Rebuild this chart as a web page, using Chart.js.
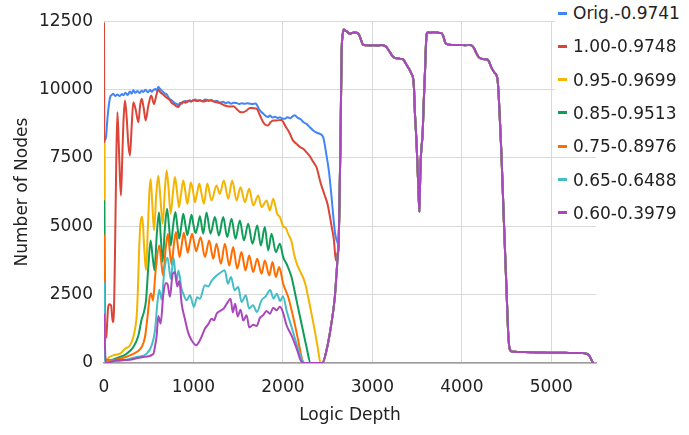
<!DOCTYPE html>
<html>
<head>
<meta charset="utf-8">
<script src="https://cdn.jsdelivr.net/npm/chart.js@4/dist/chart.umd.min.js"></script>
<style>
  html, body { margin: 0; padding: 0; background: #fff; }
  #wrap { position: relative; width: 689px; height: 435px; }
  #legend { position: absolute; left: 555px; top: 0; font: 17px "DejaVu Sans", sans-serif; color: #222; }
  .item { position: absolute; left: 0; width: 134px; height: 22px; background: #fff; display: flex; align-items: center; white-space: nowrap; }
  .swatch { width: 9px; height: 3px; margin-left: 3px; margin-right: 6px; flex: none; }
</style>
</head>
<body>
<div id="wrap">
  <canvas id="c" width="689" height="435"></canvas>
  <div id="legend"></div>
</div>
<script>
// Node count per logic depth, [depth, nodes]
const seriesLabels = ['Orig.-0.9741', '1.00-0.9748', '0.95-0.9699', '0.85-0.9513', '0.75-0.8976', '0.65-0.6488', '0.60-0.3979'];

const orig = [[0,8100],[22,8250],[40,9000],[67,9700],[85,9800],[104,9850],[125,9760],[150,9820],[175,9760],[200,9840],[216,9790],[240,9880],[265,9800],[290,9930],[310,9850],[328,9975],[350,9880],[375,9950],[400,9870],[420,9960],[440,9915],[465,9990],[490,9900],[515,9980],[535,9920],[551,9975],[575,10020],[590,9960],[607,10100],[625,10030],[645,9960],[665,9900],[682,9850],[700,9830],[720,9720],[740,9640],[760,9600],[790,9500],[812,9480],[830,9420],[850,9520],[870,9480],[886,9550],[910,9580],[930,9540],[960,9610],[980,9570],[998,9610],[1020,9640],[1050,9590],[1072,9620],[1100,9580],[1130,9640],[1147,9630],[1170,9580],[1200,9620],[1230,9560],[1260,9590],[1290,9530],[1333,9550],[1360,9500],[1390,9540],[1420,9480],[1445,9520],[1482,9510],[1510,9470],[1540,9500],[1570,9480],[1600,9500],[1631,9485],[1660,9470],[1690,9490],[1706,9460],[1730,9300],[1761,9170],[1780,9120],[1810,9030],[1835,9000],[1855,9050],[1880,8980],[1910,9010],[1940,8960],[1966,8990],[1990,8940],[2022,8930],[2050,8990],[2080,8950],[2105,9010],[2133,9060],[2160,8980],[2189,8930],[2210,8880],[2227,8810],[2264,8745],[2301,8620],[2339,8505],[2380,8420],[2413,8380],[2450,8260],[2487,7600],[2515,7000],[2543,6100],[2565,5300],[2585,4700],[2606,4450]];

const r100 = [[0,12450],[10,900],[25,950],[45,2000],[60,2150],[80,2100],[97,1500],[110,1800],[125,4500],[138,7600],[150,9170],[165,8000],[178,6800],[190,6130],[205,7600],[220,9000],[235,9600],[255,8900],[272,8000],[290,7590],[310,8700],[328,9540],[355,9250],[384,8806],[405,9450],[421,9660],[445,9300],[466,8870],[495,9400],[528,9780],[559,9476],[585,9800],[607,9990],[630,9900],[660,9820],[682,9760],[710,9680],[737,9608],[760,9500],[790,9450],[810,9380],[830,9363],[855,9480],[886,9547],[910,9520],[940,9590],[970,9560],[998,9608],[1030,9580],[1072,9598],[1110,9560],[1150,9600],[1184,9608],[1221,9573],[1260,9530],[1300,9500],[1351,9415],[1400,9380],[1445,9387],[1482,9293],[1520,9180],[1556,9171],[1593,9232],[1631,9330],[1670,9320],[1706,9300],[1740,9080],[1780,8806],[1810,8700],[1836,8690],[1860,8800],[1891,8867],[1929,8873],[1984,8891],[2004,8812],[2030,8650],[2059,8502],[2078,8383],[2110,8150],[2152,8015],[2190,7900],[2227,7832],[2265,7700],[2301,7560],[2340,7350],[2376,7160],[2420,6600],[2460,6200],[2500,5800],[2544,5000],[2570,4500],[2592,3750],[2608,4000]];

const r095 = [[0,8050],[12,250],[30,120],[60,220],[104,280],[179,340],[235,520],[291,650],[328,950],[350,1300],[365,1700],[378,2600],[390,3900],[405,5000],[428,5350],[448,4300],[469,3390],[490,4900],[508,6300],[521,6730],[540,5800],[559,4850],[585,6200],[607,6850],[630,6050],[656,5090],[680,6300],[700,7040],[720,6450],[745,5460],[770,6200],[793,6800],[815,6300],[838,5700],[862,6200],[886,6670],[908,6300],[931,5820],[952,6200],[970,6600],[995,6300],[1017,5880],[1040,6200],[1065,6560],[1090,6200],[1117,5820],[1154,6560],[1202,5940],[1258,6490],[1295,6190],[1340,6675],[1389,6005],[1433,6675],[1482,5944],[1526,6431],[1575,5883],[1623,6370],[1668,5761],[1724,6127],[1761,5700],[1817,5944],[1854,5578],[1891,6005],[1936,5457],[1966,5335],[2003,5000],[2030,4950],[2059,4720],[2096,4450],[2130,3900],[2165,3550],[2200,3300],[2245,2950],[2280,2450],[2320,1800],[2358,1150],[2395,450],[2420,0]];

const r085 = [[0,5950],[12,150],[30,97],[67,97],[120,150],[179,220],[253,340],[328,585],[384,1000],[421,1600],[445,1850],[470,2300],[495,3500],[521,4480],[543,3900],[565,3390],[590,4700],[615,5500],[635,4600],[655,3700],[680,4900],[705,5640],[727,5000],[747,4300],[772,5000],[798,5520],[820,5000],[840,4550],[864,5000],[886,5460],[910,5050],[931,4680],[955,5050],[979,5420],[1000,5050],[1024,4750],[1050,5050],[1072,5370],[1109,4726],[1146,5500],[1191,4726],[1240,5335],[1284,4665],[1333,5335],[1377,4604],[1426,5274],[1470,4543],[1519,5213],[1564,4482],[1612,5091],[1660,4360],[1713,5030],[1753,4300],[1798,4970],[1835,4117],[1873,4726],[1921,4056],[1966,4360],[2003,3873],[2040,3630],[2096,3142],[2152,2290],[2208,1437],[2264,585],[2310,0]];

const r075 = [[0,4700],[12,120],[30,97],[67,97],[179,158],[291,280],[365,400],[421,585],[458,950],[490,1800],[510,2400],[527,2540],[548,2290],[575,3300],[618,4300],[640,3700],[660,3200],[690,4200],[715,4730],[735,4100],[756,3600],[780,4300],[804,4790],[825,4300],[845,3880],[870,4350],[892,4760],[915,4400],[936,4030],[960,4400],[985,4730],[1008,4400],[1030,4090],[1055,4350],[1080,4600],[1128,3873],[1176,4482],[1221,3812],[1258,4360],[1307,3630],[1351,4360],[1400,3569],[1444,4239],[1489,3447],[1537,4056],[1582,3386],[1623,3934],[1668,3325],[1713,3812],[1761,3264],[1798,3751],[1847,3203],[1884,3690],[1921,3142],[1958,3508],[2003,2899],[2059,2412],[2115,1681],[2171,828],[2208,219],[2232,0]];

const r065 = [[0,2950],[12,80],[30,37],[120,60],[216,97],[365,219],[477,341],[533,646],[570,1194],[596,2168],[618,2680],[644,2320],[675,3400],[711,3850],[745,3080],[778,3850],[808,2950],[832,3380],[868,2700],[886,2540],[923,2294],[961,2477],[1005,2050],[1040,2400],[1072,2350],[1128,2840],[1165,2800],[1203,3000],[1250,3170],[1300,3300],[1350,3390],[1385,2900],[1420,3145],[1460,2660],[1500,2780],[1538,2230],[1585,2475],[1622,1990],[1665,2110],[1710,1865],[1760,2290],[1808,2440],[1858,2670],[1895,2350],[1932,2535],[1970,2260],[2000,2445],[2045,1865],[2097,1317],[2152,707],[2208,160],[2240,0]];

const r060 = [[0,1800],[20,0],[141,98],[290,122],[440,220],[551,330],[575,700],[589,1000],[607,1720],[633,1440],[663,2500],[693,2930],[711,2880],[737,2420],[767,3250],[793,3330],[819,2800],[842,3000],[868,2170],[905,1600],[942,1100],[979,830],[1030,650],[1072,830],[1128,1250],[1166,1420],[1203,1620],[1229,1560],[1259,1800],[1296,1900],[1340,2000],[1378,2200],[1415,2350],[1440,1850],[1466,2170],[1495,1700],[1527,1950],[1557,1550],[1594,1750],[1624,1300],[1668,1400],[1706,1350],[1743,1650],[1780,1750],[1817,1900],[1855,1800],[1892,2020],[1929,1930],[1966,2060],[1996,1900],[2041,1380],[2097,1000],[2152,540],[2200,90],[2230,0]];

// Climb out of zero shared by the five pruned runs
const climb = [[2440,0],[2490,500],[2540,1400],[2580,2400],[2600,3300],[2612,3900]];

// Deep section where every run coincides
const tail = [[2622,4300],[2630,5400],[2644,8200],[2656,11300],[2668,12000],[2681,12200],[2700,12150],[2715,12130],[2730,12080],[2748,12040],[2770,12070],[2800,12090],[2823,12080],[2840,12050],[2855,11980],[2875,11800],[2896,11640],[2930,11620],[2972,11614],[3020,11620],[3060,11610],[3101,11634],[3121,11614],[3140,11590],[3158,11550],[3190,11400],[3215,11270],[3232,11200],[3260,11150],[3290,11140],[3320,11120],[3343,11110],[3365,11000],[3381,10919],[3400,10810],[3420,10700],[3440,10560],[3456,10400],[3466,10000],[3475,9200],[3490,8300],[3505,7200],[3515,6300],[3526,5530],[3533,6500],[3540,7400],[3550,7900],[3562,8400],[3575,9600],[3590,10800],[3600,11700],[3610,12060],[3625,12100],[3642,12080],[3680,12100],[3720,12090],[3760,12070],[3775,12060],[3795,11930],[3815,11720],[3835,11660],[3870,11640],[3900,11630],[3940,11626],[3980,11630],[4040,11620],[4090,11630],[4110,11610],[4135,11520],[4160,11350],[4185,11200],[4210,11140],[4250,11110],[4285,11100],[4305,11020],[4325,10850],[4345,10720],[4365,10620],[4385,10540],[4400,10350],[4412,9800],[4424,9000],[4443,7625],[4470,5200],[4499,2744],[4517,1190],[4530,600],[4545,450],[4560,420],[4600,410],[4650,400],[4700,400],[4800,390],[4900,380],[5000,377],[5100,372],[5200,370],[5300,365],[5355,362],[5385,345],[5411,316],[5430,240],[5450,110],[5467,0]];

const xTickValues = [0, 1000, 2000, 3000, 4000, 5000];
const yTickValues = [0, 2500, 5000, 7500, 10000, 12500];

const colors = ['#4285F4', '#DB4437', '#F4B400', '#0F9D58', '#FF6D01', '#46BDC6', '#AB47BC'];

const rows = [
  orig.concat(tail),
  r100.concat(tail),
  r095.concat(climb, tail),
  r085.concat(climb, tail),
  r075.concat(climb, tail),
  r065.concat(climb, tail),
  r060.concat(climb, tail)
];

const FONT = { family: 'DejaVu Sans', size: 17 };

const datasets = rows.map((pts, i) => ({
  label: seriesLabels[i],
  data: pts.map(p => ({ x: p[0], y: p[1] })),
  borderColor: colors[i],
  backgroundColor: colors[i],
  borderWidth: 2,
  pointRadius: 0,
  fill: false,
  cubicInterpolationMode: 'monotone',
  order: rows.length - 1 - i   // later runs are painted over earlier ones
}));

new Chart(document.getElementById('c'), {
  type: 'line',
  data: { datasets },
  options: {
    responsive: false,
    animation: false,
    devicePixelRatio: 1,
    layout: { padding: { left: 0, right: 93, top: 20, bottom: 0 } },
    plugins: { legend: { display: false }, tooltip: { enabled: false } },
    scales: {
      x: {
        type: 'linear',
        min: 0,
        max: 5500,
        afterBuildTicks: s => { s.ticks = xTickValues.map(v => ({ value: v })); },
        afterFit: s => { s.height = 72; },
        ticks: { padding: 14, color: '#222', font: FONT, maxRotation: 0, autoSkip: false, callback: v => String(v) },
        grid: { color: '#d9d9d9', drawTicks: false },
        border: { color: '#9e9e9e', width: 1.5 },
        title: { display: true, text: 'Logic Depth', color: '#222', font: FONT, padding: { top: 0, bottom: 9 } }
      },
      y: {
        type: 'linear',
        min: 0,
        max: 12500,
        afterBuildTicks: s => { s.ticks = yTickValues.map(v => ({ value: v })); },
        afterFit: s => { s.width = 104; },
        ticks: { padding: 11, color: '#222', font: FONT, autoSkip: false, callback: v => String(v) },
        grid: { color: '#d9d9d9', drawTicks: false },
        border: { display: false },
        title: { display: true, text: 'Number of Nodes', color: '#222', font: FONT, padding: { top: 12, bottom: 0 } }
      }
    }
  }
});

// Legend on the right, over the plot edge
const legend = document.getElementById('legend');
seriesLabels.forEach((name, i) => {
  const item = document.createElement('div');
  item.className = 'item';
  item.style.top = (2 + i * 33.3) + 'px';
  const sw = document.createElement('span');
  sw.className = 'swatch';
  sw.style.background = colors[i];
  const tx = document.createElement('span');
  tx.textContent = name;
  item.appendChild(sw);
  item.appendChild(tx);
  legend.appendChild(item);
});
</script>
</body>
</html>
